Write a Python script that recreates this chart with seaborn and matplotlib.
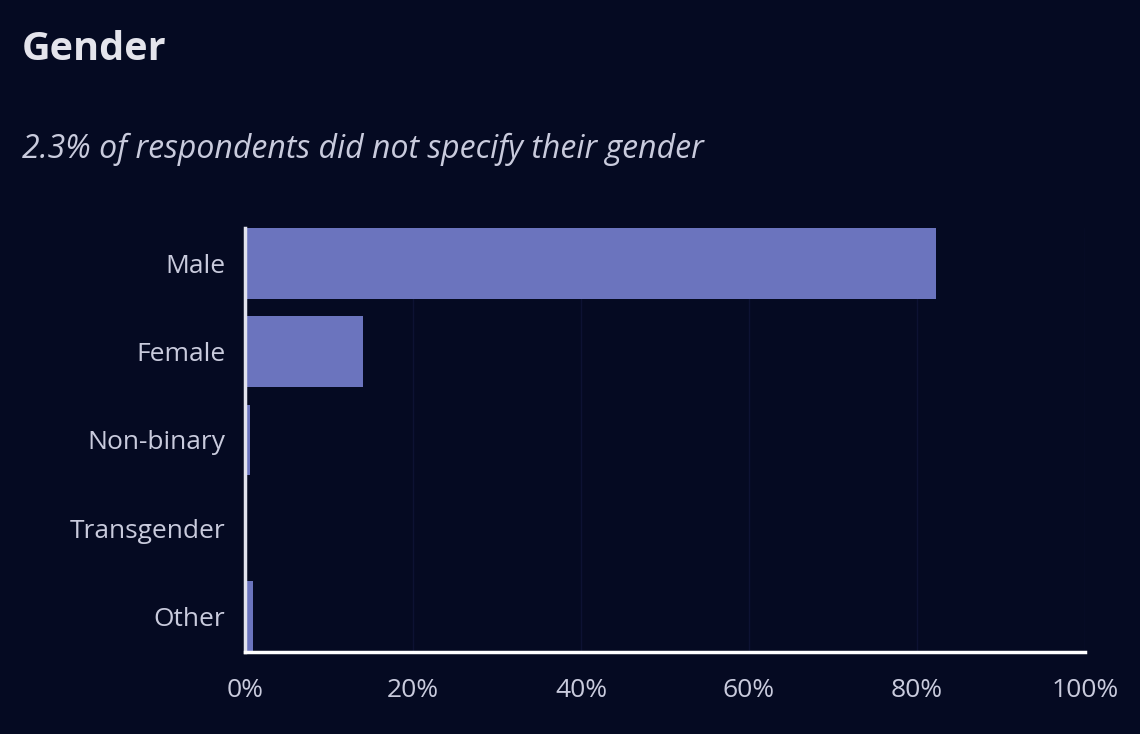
import matplotlib
matplotlib.use("Agg")
import matplotlib.pyplot as plt
import seaborn as sns
import pandas as pd
from matplotlib.ticker import PercentFormatter

genders = ["Male", "Female", "Non-binary", "Transgender", "Other"]
share = [82.3, 14.1, 0.6, 0.1, 0.9]
ticks = [0, 20, 40, 60, 80, 100]

bg = "#050a22"
bar_color = "#6b74be"
text_color = "#c9cbdd"

sns.set_theme(style="dark")
plt.rcParams["font.family"] = ["Open Sans", "DejaVu Sans"]

df = pd.DataFrame({"gender": genders, "share": share})

fig = plt.figure(figsize=(11.4, 7.34), dpi=100, facecolor=bg)
ax = fig.add_axes([0.2149, 0.1117, 0.7369, 0.5777])
ax.set_facecolor(bg)

sns.barplot(data=df, x="share", y="gender", color=bar_color, saturation=1,
            width=0.8, ax=ax, zorder=3, edgecolor="none", linewidth=0)

ax.set_xlim(0, 100)
ax.set_ylim(4.4, -0.4)
ax.set_xticks(ticks)
ax.xaxis.set_major_formatter(PercentFormatter(decimals=0))
ax.set_xlabel("")
ax.set_ylabel("")
ax.grid(axis="x", color="#0d1233", linewidth=1, zorder=0)
ax.grid(axis="y", visible=False)

for s in ["top", "right"]:
    ax.spines[s].set_visible(False)
ax.spines["left"].set_color("#e2e3ee")
ax.spines["left"].set_linewidth(2.5)
ax.spines["bottom"].set_color("#ffffff")
ax.spines["bottom"].set_linewidth(2.5)
ax.spines["left"].set_zorder(5)
ax.spines["bottom"].set_zorder(5)

ax.tick_params(axis="y", length=0, pad=14, labelsize=19, labelcolor=text_color)
ax.tick_params(axis="x", length=0, pad=19, labelsize=19, labelcolor=text_color)

fig.text(0.0193, 0.932, "Gender", fontsize=28.5, fontweight="bold",
         color="#e4e4ec", va="center", ha="left")
fig.text(0.0193, 0.797, "2.3% of respondents did not specify their gender",
         fontsize=23, fontstyle="italic", color=text_color, va="center", ha="left")

fig.savefig("out.png", dpi=100, facecolor=bg)
